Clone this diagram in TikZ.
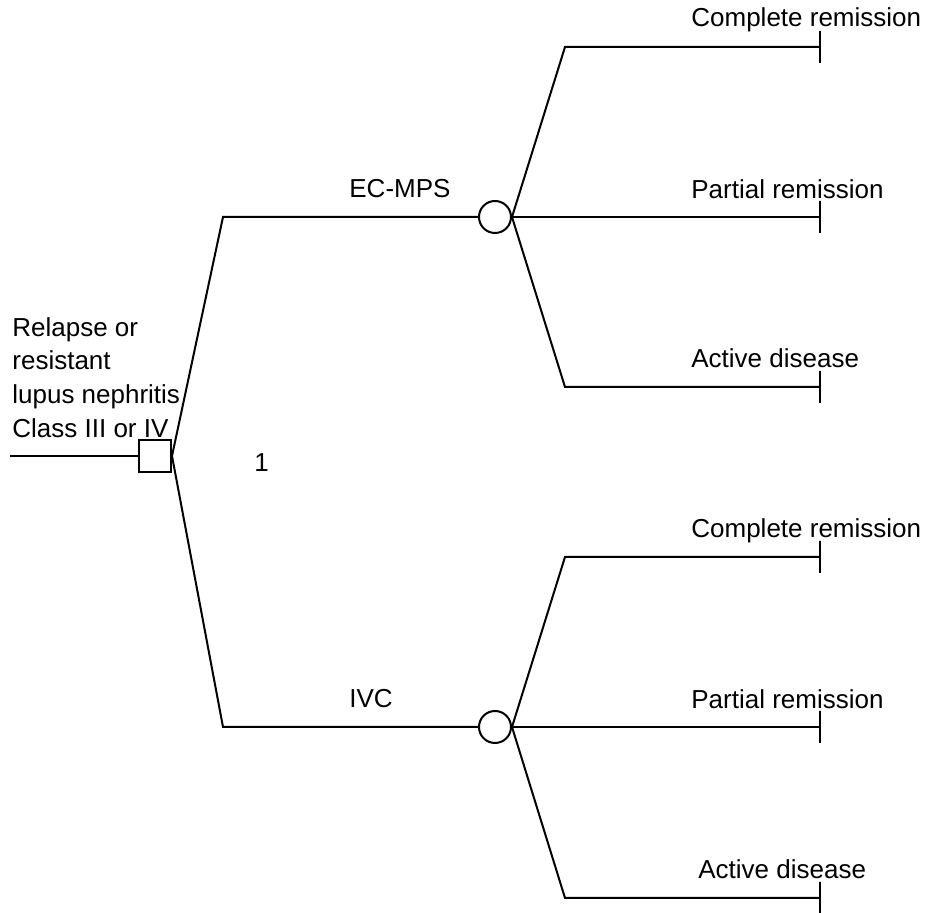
\documentclass[tikz,border=0pt]{standalone}
\usepackage{fontspec}
\setmainfont{Liberation Sans}
\usetikzlibrary{positioning}

\begin{document}
\begin{tikzpicture}[
  x=0.5pt,y=-0.5pt,
  font=\fontsize{13}{16.85}\selectfont,
  edge/.style={line width=1pt},
  decision/.style={draw,line width=1pt,rectangle,minimum size=16pt,inner sep=0pt},
  chance/.style={draw,line width=1pt,circle,minimum size=16pt,inner sep=0pt},
  terminal/.style={draw,line width=1pt,rectangle,minimum width=0pt,
                   minimum height=16pt,inner sep=0pt},
  lbl/.style={anchor=base west,inner sep=0pt}
]
\useasboundingbox (0,0) rectangle (928,913);

% decision node and its entry line
\coordinate (start) at (10,456);
\node[decision] (choice) at (155,456) {};
\node[lbl,align=left,anchor=north west] (question) at (12,317)
  {Relapse or\\resistant\\lupus nephritis\\Class III or IV};
\node[lbl] (value) at (254,472) {1};

% treatment arms
\coordinate (armA) at (223,217);
\coordinate (armB) at (223,727);
\node[chance] (ecmps) at (495,217) {};
\node[chance] (ivc) at (495,727) {};
\node[lbl] (ecmpslbl) at (349,198) {EC-MPS};
\node[lbl] (ivclbl) at (349,708) {IVC};

% outcome kinks
\coordinate (kA1) at (565,47);
\coordinate (kA3) at (565,387);
\coordinate (kB1) at (565,557);
\coordinate (kB3) at (565,898);

% terminal nodes
\node[terminal] (tA1) at (820,47) {};
\node[terminal] (tA2) at (820,217) {};
\node[terminal] (tA3) at (820,387) {};
\node[terminal] (tB1) at (820,557) {};
\node[terminal] (tB2) at (820,727) {};
\node[terminal] (tB3) at (820,898) {};

\node[lbl] (oA1) at (691,27) {Complete remission};
\node[lbl] (oA2) at (691,199) {Partial remission};
\node[lbl] (oA3) at (691,368) {Active disease};
\node[lbl] (oB1) at (691,538) {Complete remission};
\node[lbl] (oB2) at (691,709) {Partial remission};
\node[lbl] (oB3) at (698,879) {Active disease};

\draw[edge] (start) -- (choice);
\draw[edge] (choice.east) -- (armA) -- (ecmps);
\draw[edge] (choice.east) -- (armB) -- (ivc);
\draw[edge] (ecmps.east) -- (kA1) -- (tA1);
\draw[edge] (ecmps.east) -- (tA2);
\draw[edge] (ecmps.east) -- (kA3) -- (tA3);
\draw[edge] (ivc.east) -- (kB1) -- (tB1);
\draw[edge] (ivc.east) -- (tB2);
\draw[edge] (ivc.east) -- (kB3) -- (tB3);
\end{tikzpicture}
\end{document}
